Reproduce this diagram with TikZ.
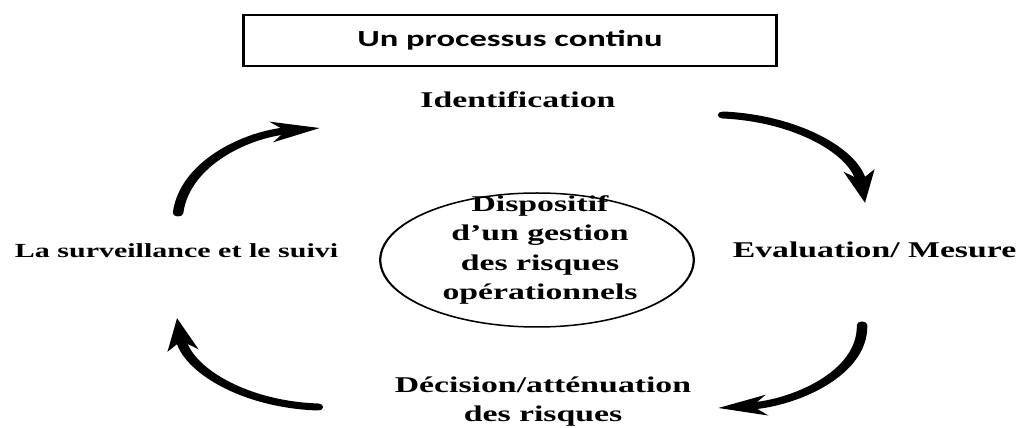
\documentclass[tikz,border=0pt]{standalone}
\usepackage{fontspec}
\setmainfont{Liberation Serif}
\newfontfamily\boxfont{Carlito}
\usetikzlibrary{arrows.meta,shapes.geometric}

\begin{document}
\begin{tikzpicture}
		[x=1pt,y=1pt,
		lbl/.style={font=\fontsize{22.5}{29.5}\selectfont\bfseries,inner sep=0pt,align=center},
		cyc/.style={line width=7pt,line cap=round,-{Stealth[length=32pt,width=20pt,inset=9pt]}}
		]
		\useasboundingbox (0,0) rectangle (1022,428);
		
		% everything is drawn 1.5 times wider
		\begin{scope}[transform canvas={xscale=1.5}]
			% title
			\node[draw,line width=2pt,minimum width=355pt,minimum height=51pt,font=\boxfont\fontsize{23}{28}\selectfont\bfseries] (titre) at (340,387.5) {Un processus continu};
			
			% ellipse
			\node[draw,ellipse,line width=1.5pt,minimum width=209pt,minimum height=134pt] (disp) at (358,168) {};
			\node[lbl,anchor=base] (disptxt) at (360,128) {Dispositif\\d’un gestion\\des risques\\opérationnels};
			
			% steps
			\node[lbl,anchor=base] (ident) at (345.3,320) {Identification};
			\node[lbl,anchor=base] (eval) at (583,170) {Evaluation/ Mesure};
			\node[lbl,anchor=base] (decis) at (362,6) {Décision/atténuation\\des risques};
			\node[lbl,anchor=base,font=\fontsize{20}{26}\selectfont\bfseries] (surv) at (117.7,170) {La surveillance et le suivi};
			
			% cycle
			\coordinate (a1) at (118.7,215);
			\coordinate (b1) at (213.3,300);
			\coordinate (a2) at (482,313);
			\coordinate (b2) at (576.7,225);
			\coordinate (a3) at (574.7,103);
			\coordinate (b3) at (478.7,20);
			\coordinate (a4) at (212,21);
			\coordinate (b4) at (118,110);
			\draw[cyc] (a1) to[out=85,in=187] (b1);
			\draw[cyc] (a2) to[out=-4,in=97] (b2);
			\draw[cyc] (a3) to[out=-89,in=5] (b3);
			\draw[cyc] (a4) to[out=177,in=277] (b4);
		\end{scope}
	\end{tikzpicture}
\end{document}
